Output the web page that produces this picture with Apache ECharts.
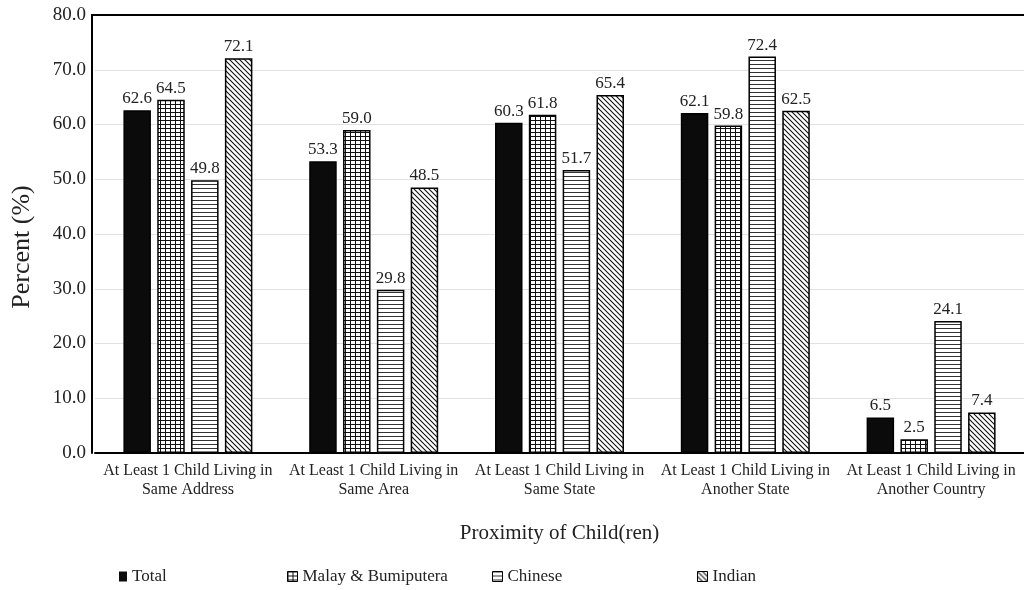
<!DOCTYPE html>
<html>
<head>
<meta charset="utf-8">
<script src="https://cdn.jsdelivr.net/npm/echarts@6/dist/echarts.min.js"></script>
<style>
  html, body { margin: 0; padding: 0; background: #fff; }
  #chart { width: 1024px; height: 590px; }
</style>
</head>
<body>
<div id="chart"></div>
<script>
const categories = [
  'At Least 1 Child Living in\nSame Address',
  'At Least 1 Child Living in\nSame Area',
  'At Least 1 Child Living in\nSame State',
  'At Least 1 Child Living in\nAnother State',
  'At Least 1 Child Living in\nAnother Country'
];
const seriesNames = ['Total', 'Malay & Bumiputera', 'Chinese', 'Indian'];
const totalValues = [62.6, 53.3, 60.3, 62.1, 6.5];
const malayValues = [64.5, 59.0, 61.8, 59.8, 2.5];
const chineseValues = [49.8, 29.8, 51.7, 72.4, 24.1];
const indianValues = [72.1, 48.5, 65.4, 62.5, 7.4];

const FONT = '"Liberation Serif", "Times New Roman", serif';

function tile(w, h, draw) {
  const c = document.createElement('canvas');
  c.width = w; c.height = h;
  const g = c.getContext('2d');
  g.fillStyle = '#fff';
  g.fillRect(0, 0, w, h);
  g.strokeStyle = '#111';
  draw(g, w, h);
  return { image: c, repeat: 'repeat' };
}

// solid fill, square grid, horizontal stripes, diagonal hatch
const fills = [
  '#0b0b0b',
  tile(5, 4, (g) => {
    g.fillStyle = '#111';
    g.fillRect(0, 0, 1, 4);
    g.fillRect(0, 0, 5, 1);
  }),
  tile(4, 4, (g) => {
    g.fillStyle = '#333';
    g.fillRect(0, 0, 4, 1);
  }),
  tile(5, 5, (g, s) => {
    g.lineWidth = 1.1;
    g.beginPath();
    g.moveTo(-1, -1); g.lineTo(s + 1, s + 1);
    g.moveTo(-2, s - 2); g.lineTo(2, s + 2);
    g.moveTo(s - 2, -2); g.lineTo(s + 2, 2);
    g.stroke();
  })
];

const valueSets = [totalValues, malayValues, chineseValues, indianValues];

const series = seriesNames.map((name, i) => ({
  name: name,
  type: 'bar',
  xAxisIndex: 0,
  data: valueSets[i],
  barWidth: 27.5,
  barGap: '23%',
  itemStyle: { color: fills[i], borderColor: '#000', borderWidth: 1.5 },
  label: {
    show: true,
    position: 'top',
    distance: 3,
    formatter: (p) => p.value.toFixed(1),
    fontFamily: FONT,
    fontSize: 17,
    color: '#222'
  }
}));

// one legend block per series so the entries sit on an even spacing
const legendLefts = [114, 282, 487, 692];
const legends = seriesNames.map((name, i) => ({
  data: [name],
  top: 563,
  left: legendLefts[i],
  icon: 'rect',
  itemWidth: i === 0 ? 8 : 10,
  itemHeight: 10,
  selectedMode: false,
  textStyle: { fontFamily: FONT, fontSize: 17, color: '#222' },
  itemStyle: { borderColor: '#000', borderWidth: i === 0 ? 0 : 1 }
}));

const chart = echarts.init(document.getElementById('chart'), null, { renderer: 'canvas' });
chart.setOption({
  animation: false,
  backgroundColor: '#fff',
  textStyle: { fontFamily: FONT },
  grid: { left: 95, right: -2, top: 15, bottom: 137, containLabel: false },
  legend: legends,
  xAxis: [
    {
      type: 'category',
      data: categories,
      position: 'bottom',
      axisLine: { lineStyle: { color: '#000', width: 2 } },
      axisTick: { show: false },
      axisLabel: {
        interval: 0,
        fontFamily: FONT,
        fontSize: 16,
        lineHeight: 19,
        color: '#222',
        margin: 8
      },
      name: 'Proximity of Child(ren)',
      nameLocation: 'middle',
      nameGap: 70,
      nameTextStyle: { fontFamily: FONT, fontSize: 21, color: '#222' }
    },
    {
      type: 'category',
      data: categories,
      position: 'top',
      axisLine: { lineStyle: { color: '#000', width: 2 } },
      axisTick: { show: false },
      axisLabel: { show: false }
    }
  ],
  yAxis: {
    type: 'value',
    min: 0,
    max: 80,
    interval: 10,
    offset: 3,
    axisLine: { show: true, lineStyle: { color: '#000', width: 2 } },
    axisTick: { show: false },
    splitLine: { lineStyle: { color: '#e2e2e2', width: 1 } },
    axisLabel: {
      formatter: (v) => v.toFixed(1),
      fontFamily: FONT,
      fontSize: 19,
      color: '#222',
      margin: 6
    },
    name: 'Percent (%)',
    nameLocation: 'middle',
    nameGap: 57,
    nameTextStyle: {
      fontFamily: FONT,
      fontSize: 26,
      color: '#222',
      padding: [0, 26, 0, 0]
    }
  },
  // closes the top-left corner between the value axis and the top border
  graphic: [{
    type: 'line',
    shape: { x1: 91, y1: 15, x2: 96, y2: 15 },
    style: { stroke: '#000', lineWidth: 2 }
  }],
  series: series
});
</script>
</body>
</html>
